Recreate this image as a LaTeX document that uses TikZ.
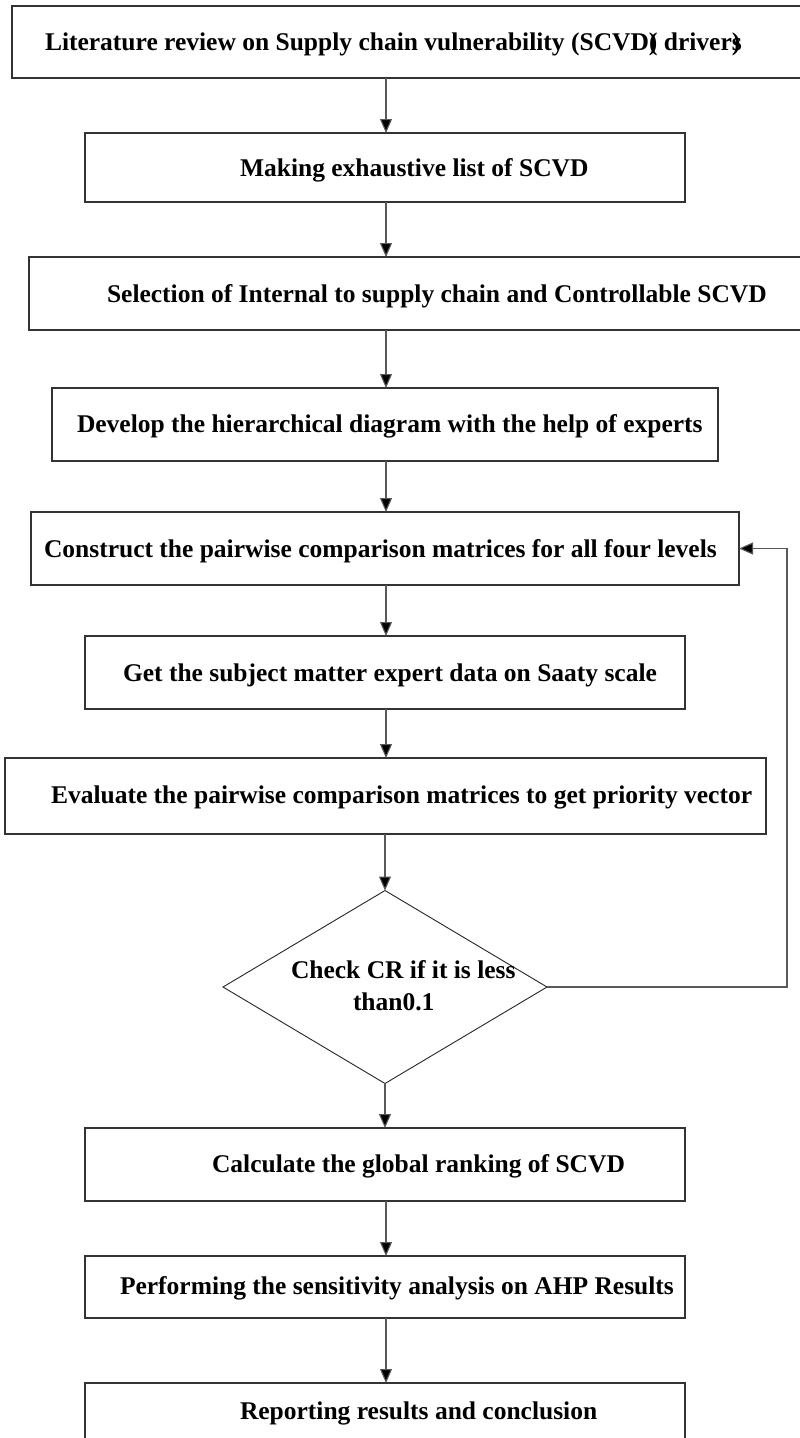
\documentclass[tikz,border=0pt]{standalone}
\usepackage{fontspec}
\setmainfont{Liberation Serif}
\usetikzlibrary{arrows.meta,shapes.geometric}
\tikzset{
  stepbox/.style={draw=black!80, line width=1.1pt, rectangle, inner sep=0pt, outer sep=0pt},
  decbox/.style={draw=black!85, line width=0.9pt, diamond, inner sep=0pt, outer sep=0pt},
  lbl/.style={anchor=base west, inner sep=0pt, outer sep=0pt, font=\fontsize{25.5}{30}\selectfont\bfseries},
  flow/.style={draw=black!65, line width=1.1pt, -{Triangle[width=12pt,length=14pt,fill=black]}}
}
\begin{document}
\begin{tikzpicture}[x=1pt,y=-1pt]
\useasboundingbox (0,0) rectangle (800,1438);
\clip (0,0) rectangle (800,1438);
\fill[white] (0,0) rectangle (800,1438);
% boxes
\node[stepbox, minimum width=793pt, minimum height=72pt] (b1) at (408.5,42) {};
\node[stepbox, minimum width=600pt, minimum height=69pt] (b2) at (385,167.5) {};
\node[stepbox, minimum width=776pt, minimum height=73pt] (b3) at (417,293.5) {};
\node[stepbox, minimum width=666pt, minimum height=73pt] (b4) at (385,424.5) {};
\node[stepbox, minimum width=708pt, minimum height=73pt] (b5) at (385,548.5) {};
\node[stepbox, minimum width=600pt, minimum height=73pt] (b6) at (385,672.5) {};
\node[stepbox, minimum width=761pt, minimum height=76pt] (b7) at (385.5,796) {};
\node[decbox, minimum width=324pt, minimum height=193pt] (d) at (385,987) {};
\node[stepbox, minimum width=600pt, minimum height=73pt] (b8) at (385,1164.5) {};
\node[stepbox, minimum width=600pt, minimum height=62pt] (b9) at (385,1287) {};
\node[stepbox, minimum width=600pt, minimum height=77pt] (b10) at (385,1421.5) {};
% texts
\node[lbl] (t1) at (45,50.5) {Literature review on Supply chain vulnerability (SCVD\rlap{)}( driver\rlap{)}s};
\node[lbl] (t2) at (240,176) {Making exhaustive list of SCVD};
\node[lbl] (t3) at (107,302) {Selection of Internal to supply chain and Controllable SCVD};
\node[lbl] (t4) at (77,432) {Develop the hierarchical diagram with the help of experts};
\node[lbl] (t5) at (44,557) {Construct the pairwise comparison matrices for all four levels};
\node[lbl] (t6) at (123,681) {Get the subject matter expert data on Saaty scale};
\node[lbl] (t7) at (51,803) {Evaluate the pairwise comparison matrices to get priority vector};
\node[lbl] (td1) at (291,978) {Check CR if it is less};
\node[lbl] (td2) at (353,1010) {than0.1};
\node[lbl] (t8) at (212,1172) {Calculate the global ranking of SCVD};
\node[lbl] (t9) at (120,1294) {Performing the sensitivity analysis on AHP Results};
\node[lbl] (t10) at (240,1419) {Reporting results and conclusion};
% connectors
\coordinate (ax) at (386,0);
\coordinate (fbx) at (787,0);
\draw[flow] (b1.south -| ax) -- (b2.north -| ax);
\draw[flow] (b2.south -| ax) -- (b3.north -| ax);
\draw[flow] (b3.south -| ax) -- (b4.north -| ax);
\draw[flow] (b4.south -| ax) -- (b5.north -| ax);
\draw[flow] (b5.south -| ax) -- (b6.north -| ax);
\draw[flow] (b6.south -| ax) -- (b7.north -| ax);
\draw[flow] (b7.south -| d.north) -- (d.north);
\draw[flow] (d.south) -- (b8.north -| d.south);
\draw[flow] (b8.south -| ax) -- (b9.north -| ax);
\draw[flow] (b9.south -| ax) -- (b10.north -| ax);
\draw[flow] (d.east) -- (d.east -| fbx) |- (b5.east);
\end{tikzpicture}
\end{document}
